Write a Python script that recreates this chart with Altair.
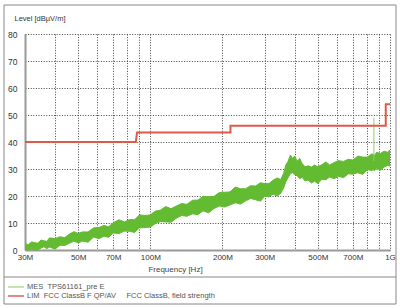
import altair as alt
import pandas as pd

# ---- data ----
freq_mhz = [30, 31, 32, 33, 34, 35, 36, 37, 38, 40, 42, 44, 46, 48, 50, 52, 55, 58, 61, 64,
            67, 70, 74, 78, 82, 86, 90, 95, 100, 105, 110, 116, 122, 128, 135, 142, 150, 158,
            166, 175, 184, 194, 204, 215, 226, 238, 250, 262, 275, 288, 300, 312, 325, 338,
            350, 360, 368, 376, 384, 392, 400, 410, 420, 430, 442, 455, 470, 485, 500, 520,
            540, 560, 585, 610, 640, 670, 700, 735, 770, 805, 840, 855, 859, 880, 910, 945,
            975, 1000]
meas_hi = [2.3, 2.0, 3.0, 2.7, 2.5, 3.7, 3.4, 3.2, 4.5, 4.2, 4.9, 4.6, 5.9, 6.8, 6.1, 6.7,
           6.7, 8.2, 8.3, 9.1, 8.6, 10.1, 11.2, 10.4, 11.3, 11.2, 13.0, 12.8, 13.0, 14.4, 14.7,
           16.1, 15.3, 16.2, 17.2, 16.9, 18.4, 18.5, 19.9, 19.7, 19.8, 21.3, 21.4, 21.5, 23.3,
           22.7, 22.7, 23.8, 23.7, 24.9, 24.6, 24.6, 25.8, 26.7, 26.1, 28.4, 31.6, 32.9, 35.2,
           33.9, 34.8, 32.9, 33.9, 32.0, 30.8, 31.2, 30.7, 31.5, 30.8, 31.6, 32.6, 31.5, 32.4,
           33.1, 32.8, 33.6, 33.3, 34.8, 34.4, 34.4, 35.6, 35.4, 34.8, 36.2, 35.7, 36.6, 36.2,
           37.0]
meas_lo = [0.0, 0.0, 0.3, 0.0, 0.0, 0.7, 1.2, 0.5, 1.1, 0.3, 1.8, 1.7, 2.5, 3.3, 2.6, 3.3,
           2.9, 4.8, 4.2, 5.1, 4.7, 6.3, 6.1, 7.0, 6.9, 6.5, 8.2, 8.3, 8.5, 9.8, 10.5, 10.4,
           10.3, 11.7, 12.8, 12.5, 13.4, 13.1, 14.5, 13.8, 15.3, 16.3, 15.9, 16.7, 17.5, 17.0,
           18.2, 19.1, 18.6, 18.1, 19.9, 19.7, 20.7, 20.0, 21.0, 23.0, 25.4, 26.8, 28.3, 28.6,
           27.9, 27.5, 26.4, 26.9, 25.6, 25.9, 24.8, 25.5, 24.6, 26.2, 26.0, 27.0, 26.4, 27.3,
           26.8, 28.2, 28.1, 28.6, 28.0, 29.8, 29.4, 29.9, 29.3, 30.4, 29.5, 30.7, 31.3, 31.1]
spike_freq = [857]
spike_lo = [33.0]
spike_hi = [49.0]

limit_freq = [30, 87, 88, 216, 216, 960, 960, 1000]
limit_db = [40, 40, 43.5, 43.5, 46, 46, 54, 54]

x_grid = [30, 40, 50, 60, 70, 80, 90, 100, 200, 300, 400, 500, 600, 700, 800, 900, 1000]
x_labels = [30, 50, 70, 100, 200, 300, 500, 700, 1000]
y_ticks = [0, 10, 20, 30, 40, 50, 60, 70, 80]

NB = "\u00a0"
legend_labels = ["MES" + NB * 2 + "TPS61161_pre E",
                 "LIM" + NB * 2 + "FCC ClassB F QP/AV" + NB * 5 + "FCC ClassB, field strength"]
legend_colors = ["#9ad47a", "#c8403a"]

FONT = "Liberation Sans"
GREEN = "#62bb30"
RED = "#dd5a48"

meas = pd.DataFrame({"f": freq_mhz, "lo": meas_lo, "hi": meas_hi})
spike = pd.DataFrame({"f": spike_freq, "lo": spike_lo, "hi": spike_hi})
limit = pd.DataFrame({"f": limit_freq, "db": limit_db, "order": list(range(len(limit_freq)))})
dummy = pd.DataFrame({"a": [0]})

lab_list = ",".join(str(v) for v in x_labels[:-1])
x_scale = alt.Scale(type="log", domain=[30, 1000], nice=False)
y_scale = alt.Scale(domain=[0, 80], nice=False)

x_axis = alt.Axis(
    values=x_grid,
    labelExpr=f"datum.value == 1000 ? '1G' : (indexof([{lab_list}], datum.value) >= 0 ? datum.value + 'M' : '')",
    ticks=False, labelPadding=3, labelFontSize=8, labelFont=FONT, labelColor="#333",
    grid=True, gridColor="#444", gridDash=[1, 1.6], gridWidth=1,
    domainColor="#999", domainWidth=2,
    title="Frequency [Hz]", titleFont=FONT, titleFontSize=8, titleFontWeight=400,
    titleColor="#444", titleX=150, titleY=15, titleAnchor="middle", labelFlush=False,
)
y_axis = alt.Axis(
    values=y_ticks, ticks=False, labelPadding=8, labelFontSize=8.5, labelFont=FONT,
    labelColor="#333",
    grid=True, gridColor="#444", gridDash=[1, 1.6], gridWidth=1,
    domainColor="#999", domainWidth=2,
    title="Level [dBµV/m]", titleFont=FONT, titleFontSize=7.5, titleFontWeight=400,
    titleColor="#333", titleAngle=0, titleAlign="left", titleBaseline="middle",
    titleX=-11, titleY=-16,
)

area = alt.Chart(meas).mark_area(color=GREEN, line=False, opacity=1).encode(
    x=alt.X("f:Q", scale=x_scale, axis=x_axis),
    y=alt.Y("lo:Q", scale=y_scale, axis=y_axis),
    y2="hi:Q",
)
edge_hi = alt.Chart(meas).mark_line(color=GREEN, strokeWidth=1).encode(
    x=alt.X("f:Q", scale=x_scale, axis=x_axis),
    y=alt.Y("hi:Q", scale=y_scale, axis=y_axis),
)
edge_lo = alt.Chart(meas).mark_line(color=GREEN, strokeWidth=1).encode(
    x=alt.X("f:Q", scale=x_scale, axis=x_axis),
    y=alt.Y("lo:Q", scale=y_scale, axis=y_axis),
)
spk = alt.Chart(spike).mark_rule(color="#8fd070", strokeWidth=1).encode(
    x=alt.X("f:Q", scale=x_scale, axis=x_axis),
    y=alt.Y("lo:Q", scale=y_scale, axis=y_axis),
    y2="hi:Q",
)
lim = alt.Chart(limit).mark_line(color=RED, strokeWidth=2).encode(
    x=alt.X("f:Q", scale=x_scale, axis=x_axis),
    y=alt.Y("db:Q", scale=y_scale, axis=y_axis),
    order="order:Q",
)

frame = alt.Chart(dummy).mark_rect(fillOpacity=0, stroke="#888", strokeWidth=1).encode(
    x=alt.value(-21), x2=alt.value(371), y=alt.value(-29), y2=alt.value(270))
sep = alt.Chart(dummy).mark_rule(color="#888", strokeWidth=1).encode(
    x=alt.value(-21), x2=alt.value(371), y=alt.value(243))

legend_layers = []
for i, (lab, col) in enumerate(zip(legend_labels, legend_colors)):
    yy = 253 + i * 9
    legend_layers.append(alt.Chart(dummy).mark_rule(color=col, strokeWidth=1.2).encode(
        x=alt.value(-17), x2=alt.value(-1), y=alt.value(yy)))
    legend_layers.append(alt.Chart(dummy).mark_text(
        text=lab, align="left", baseline="middle", font=FONT, fontSize=7.5, color="#555"
    ).encode(x=alt.value(2), y=alt.value(yy)))

chart = alt.layer(frame, sep, area, edge_hi, edge_lo, spk, lim, *legend_layers).properties(
    width=365, height=216,
    padding={"left": 25, "top": 34, "right": 10, "bottom": 58},
    autosize=alt.AutoSizeParams(type="none"),
    background="white",
).configure_view(stroke=None)

chart.save("out.html", embed_options={"renderer": "svg", "actions": False})
